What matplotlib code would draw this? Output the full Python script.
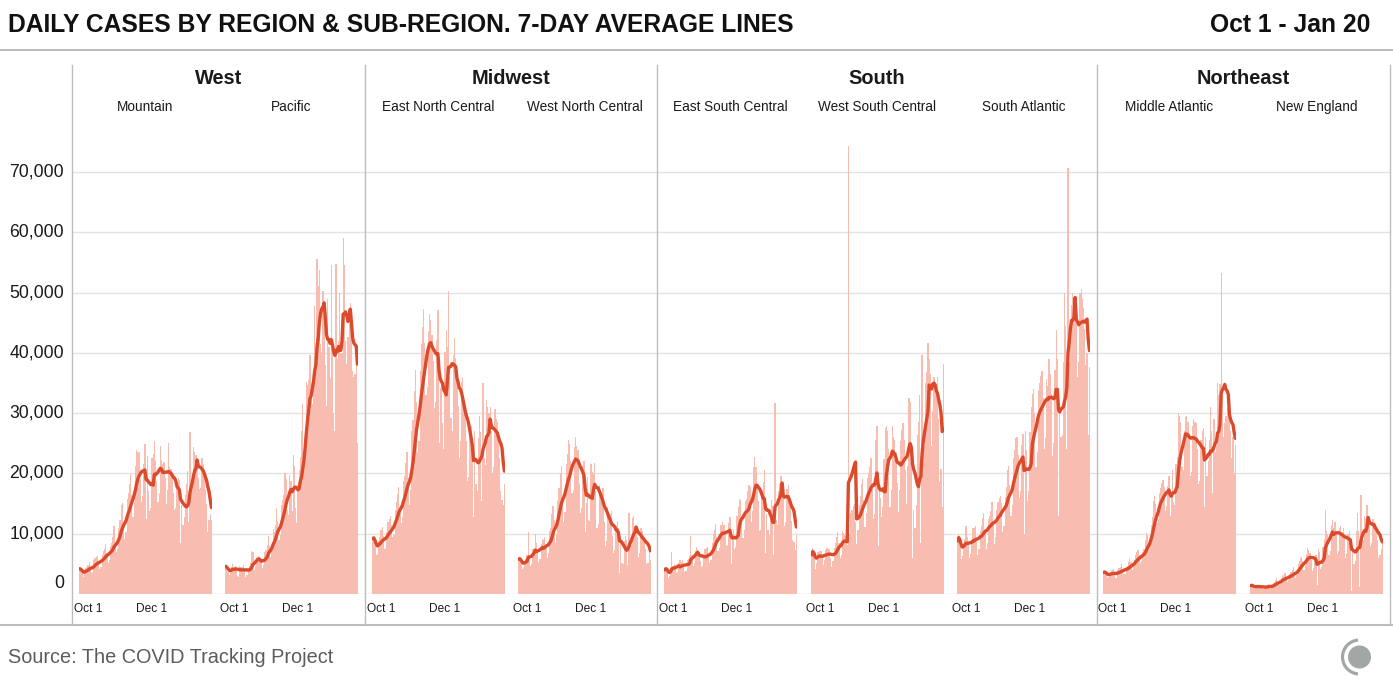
import numpy as np
import pandas as pd
import matplotlib
matplotlib.use('Agg')
import matplotlib.pyplot as plt
from matplotlib.lines import Line2D
from matplotlib.patches import Circle, Arc

# Daily new cases (thousands), Oct 1 2020 - Jan 20 2021
mountain = [4.2, 4.0, 3.6, 2.9, 3.4, 4.3, 4.5, 4.8, 5.3, 4.4, 3.6, 3.5, 5.6, 5.9,
            6.1, 6.3, 5.4, 4.2, 4.4, 6.5, 7.2, 7.4, 8.3, 6.8, 5.1, 5.6, 7.9, 8.5,
            9.5, 11.3, 8.5, 6.9, 7.5, 11.0, 12.3, 14.8, 15.1, 12.0, 9.2, 10.3, 15.8, 16.7,
            18.2, 19.9, 16.5, 12.8, 15.3, 21.2, 23.9, 23.6, 23.5, 19.0, 15.2, 16.3, 21.5, 24.9,
            12.5, 22.9, 17.0, 13.8, 14.3, 22.6, 23.2, 25.3, 22.1, 18.7, 15.2, 16.8, 24.6, 22.3,
            21.5, 21.9, 19.2, 15.0, 17.3, 25.0, 21.0, 20.8, 19.6, 16.8, 13.9, 14.2, 18.5, 19.2,
            18.9, 8.5, 14.8, 11.4, 12.7, 16.5, 18.3, 20.4, 12.0, 26.8, 17.7, 18.4, 24.3, 23.5,
            23.0, 21.9, 19.2, 17.4, 17.5, 22.6, 21.6, 19.9, 17.4, 15.0, 10.3, 12.2, 13.2, 12.3]
pacific = [4.6, 4.3, 3.7, 3.2, 3.5, 4.5, 4.9, 4.5, 4.6, 3.9, 3.0, 2.9, 4.7, 4.4,
           4.4, 4.8, 3.8, 2.9, 3.1, 4.3, 4.6, 5.2, 7.2, 6.9, 4.0, 4.6, 6.1, 5.8,
           6.3, 6.0, 5.4, 4.3, 4.8, 6.9, 7.3, 8.2, 9.7, 7.9, 6.1, 7.4, 10.8, 10.2,
           11.5, 14.3, 12.1, 9.0, 9.8, 14.8, 15.6, 16.5, 20.0, 19.1, 14.0, 13.1, 19.8, 18.8,
           13.8, 23.0, 21.3, 14.2, 11.8, 18.0, 20.5, 22.8, 27.1, 31.5, 23.5, 26.6, 35.2, 34.6,
           35.5, 39.6, 35.0, 31.5, 34.9, 47.8, 41.6, 55.5, 51.0, 53.8, 41.4, 40.1, 50.2, 46.0,
           38.0, 31.2, 48.9, 40.9, 35.8, 54.5, 40.0, 30.0, 27.0, 54.8, 39.0, 42.0, 50.0, 40.0,
           40.0, 59.0, 54.5, 42.0, 38.2, 42.7, 46.0, 48.3, 43.0, 37.0, 36.0, 36.5, 41.0, 25.0]
east_north_central = [9.2, 9.4, 8.1, 6.5, 6.7, 8.8, 9.5, 10.6, 11.1, 9.6, 7.4, 7.6, 10.2, 11.9,
                      12.4, 13.0, 11.5, 9.4, 9.8, 14.0, 15.3, 16.6, 17.8, 14.5, 11.7, 12.8, 18.7, 19.5,
                      21.8, 23.5, 19.3, 14.7, 17.2, 27.1, 28.8, 33.6, 37.2, 31.8, 23.5, 25.3, 37.0, 41.5,
                      44.2, 47.3, 41.6, 33.0, 34.4, 43.6, 46.5, 45.4, 43.0, 38.7, 30.8, 31.8, 42.1, 47.1,
                      25.1, 34.1, 35.6, 28.4, 24.0, 40.2, 43.7, 41.0, 50.3, 36.0, 29.2, 27.0, 39.6, 42.5,
                      39.2, 37.2, 31.1, 22.6, 25.3, 35.1, 36.0, 32.1, 30.2, 25.4, 18.8, 19.4, 27.2, 27.8,
                      23.6, 12.8, 27.0, 18.3, 17.0, 25.8, 29.5, 26.8, 15.5, 35.0, 22.5, 21.4, 32.1, 31.0,
                      30.0, 31.0, 27.1, 20.0, 21.0, 30.6, 29.0, 28.5, 25.9, 22.6, 17.0, 15.6, 14.7, 18.3]
west_north_central = [5.8, 5.9, 5.2, 4.2, 4.5, 5.5, 5.8, 6.5, 10.3, 6.2, 4.6, 5.0, 7.4, 7.5,
                      10.0, 8.4, 7.0, 5.3, 5.8, 8.3, 9.2, 9.0, 9.5, 8.3, 6.0, 6.8, 10.4, 11.0,
                      13.3, 14.6, 12.3, 8.5, 9.9, 15.5, 17.6, 20.0, 21.3, 16.1, 12.0, 13.6, 21.5, 23.2,
                      25.5, 24.8, 22.0, 16.8, 17.3, 24.3, 26.0, 24.6, 23.9, 18.3, 13.5, 14.2, 21.3, 22.0,
                      10.2, 15.1, 19.4, 12.3, 12.1, 21.5, 20.3, 19.9, 21.8, 17.0, 10.9, 11.6, 18.0, 16.7,
                      16.1, 17.5, 12.0, 7.9, 8.8, 14.5, 12.7, 13.3, 13.7, 9.6, 6.8, 7.3, 11.2, 12.1,
                      11.0, 3.5, 9.6, 5.2, 5.0, 8.8, 9.6, 9.0, 4.8, 13.4, 8.6, 8.2, 12.6, 12.9,
                      11.2, 10.8, 9.5, 6.1, 6.8, 11.0, 10.5, 9.8, 9.1, 7.4, 4.9, 5.2, 8.2, 5.6]
east_south_central = [4.0, 4.4, 3.9, 2.6, 3.0, 4.2, 7.0, 4.6, 4.9, 4.2, 3.4, 3.6, 5.2, 5.6,
                      5.3, 5.6, 4.6, 3.7, 3.8, 5.6, 5.8, 6.3, 9.7, 6.5, 4.6, 5.2, 7.1, 7.8,
                      7.4, 6.9, 5.5, 4.5, 4.7, 6.6, 7.5, 7.6, 7.8, 6.4, 5.1, 5.7, 8.5, 9.9,
                      10.6, 11.6, 9.5, 7.2, 7.6, 11.4, 11.5, 12.0, 11.5, 9.8, 8.0, 8.2, 11.8, 12.7,
                      5.0, 9.5, 10.7, 7.5, 7.8, 13.0, 14.5, 15.8, 15.6, 13.0, 9.3, 10.6, 15.5, 15.8,
                      17.0, 18.0, 17.8, 12.0, 13.8, 21.0, 22.7, 21.0, 17.8, 15.5, 10.4, 10.6, 17.2, 18.6,
                      20.5, 6.8, 13.2, 10.6, 9.8, 12.8, 15.6, 14.6, 6.5, 31.7, 12.3, 11.5, 17.1, 18.2,
                      19.5, 18.6, 16.3, 11.2, 12.0, 17.4, 18.0, 16.5, 14.4, 12.1, 9.0, 8.6, 7.3, 9.8]
west_south_central = [6.5, 7.6, 6.3, 4.2, 5.1, 6.9, 7.0, 7.2, 7.1, 6.2, 4.8, 5.6, 7.3, 7.6,
                      7.5, 7.4, 6.0, 4.4, 5.5, 7.7, 8.4, 9.5, 10.2, 8.4, 5.9, 6.5, 10.5, 10.1,
                      9.8, 9.7, 8.2, 74.3, 9.9, 13.4, 14.0, 14.6, 15.0, 12.0, 8.3, 10.6, 14.8, 16.2,
                      18.3, 19.0, 15.6, 11.1, 13.5, 19.3, 20.0, 21.0, 22.5, 18.0, 12.5, 13.3, 25.5, 27.8,
                      8.0, 17.5, 16.0, 12.8, 14.5, 22.4, 27.5, 27.8, 27.0, 24.0, 14.5, 17.3, 27.8, 26.0,
                      25.6, 23.5, 18.4, 13.6, 17.2, 25.4, 27.2, 28.3, 25.5, 20.5, 14.9, 21.2, 32.5, 31.8,
                      24.0, 6.0, 14.0, 11.0, 14.8, 26.3, 28.5, 33.0, 8.5, 39.7, 26.0, 24.5, 35.0, 36.8,
                      41.6, 39.0, 36.5, 24.5, 30.4, 36.0, 35.0, 34.8, 36.0, 29.0, 18.5, 20.8, 14.5, 38.1]
south_atlantic = [8.8, 9.9, 8.1, 5.8, 6.3, 8.5, 9.2, 11.2, 9.5, 8.6, 6.0, 6.6, 8.9, 10.9,
                  11.0, 11.3, 9.0, 6.4, 7.4, 10.5, 11.2, 12.6, 13.4, 10.8, 7.4, 8.5, 12.5, 13.0,
                  13.8, 15.2, 12.0, 8.3, 9.5, 14.0, 15.3, 16.0, 16.3, 15.1, 10.3, 11.2, 16.1, 17.8,
                  20.5, 21.2, 18.0, 13.0, 14.8, 22.5, 23.8, 25.8, 26.0, 23.0, 16.0, 17.1, 24.7, 26.5,
                  10.0, 27.0, 23.9, 15.5, 17.0, 26.8, 31.0, 33.2, 34.0, 30.0, 21.0, 23.5, 33.8, 35.0,
                  36.2, 37.0, 32.5, 24.0, 25.8, 35.6, 34.5, 39.0, 36.5, 33.1, 22.9, 25.0, 37.2, 43.8,
                  39.0, 13.0, 30.5, 26.0, 26.3, 38.5, 50.0, 44.5, 24.0, 70.7, 38.5, 42.0, 48.0, 50.0,
                  48.0, 47.0, 45.0, 36.0, 38.5, 50.0, 50.6, 49.0, 47.5, 44.0, 38.0, 40.0, 26.4, 37.7]
middle_atlantic = [3.6, 3.7, 3.3, 2.7, 2.8, 3.4, 3.6, 3.9, 4.1, 3.5, 2.6, 2.7, 3.9, 4.3,
                   4.4, 4.9, 4.0, 3.3, 3.3, 4.5, 4.6, 5.3, 5.9, 5.3, 4.0, 4.5, 5.7, 6.4,
                   6.9, 7.3, 6.5, 5.2, 5.5, 7.0, 7.4, 8.9, 10.1, 9.8, 7.5, 8.4, 11.5, 12.7,
                   15.5, 16.3, 15.0, 11.8, 12.5, 16.8, 17.6, 18.4, 18.9, 17.7, 13.8, 14.6, 17.9, 19.5,
                   13.0, 17.0, 20.5, 15.2, 14.8, 21.5, 22.7, 30.0, 29.5, 28.6, 21.0, 20.5, 27.0, 29.3,
                   29.6, 28.5, 26.7, 19.5, 20.3, 27.8, 29.0, 28.5, 28.3, 24.0, 18.2, 18.8, 25.5, 27.0,
                   27.5, 14.5, 26.0, 19.5, 22.0, 25.5, 31.0, 27.0, 16.8, 29.0, 23.5, 24.5, 35.0, 33.0,
                   34.8, 53.2, 33.0, 26.0, 28.3, 29.5, 31.0, 31.0, 29.5, 27.0, 22.5, 26.0, 20.0, 24.7]
new_england = [1.4, 1.5, 1.2, 0.9, 1.0, 1.3, 1.4, 1.3, 1.4, 1.1, 0.8, 0.9, 1.2, 1.3,
               1.5, 1.6, 1.3, 0.9, 1.0, 1.8, 2.0, 2.3, 2.6, 2.0, 1.5, 1.7, 2.6, 3.2,
               3.0, 3.4, 2.8, 2.0, 2.4, 3.3, 3.7, 4.0, 4.4, 3.7, 2.6, 3.2, 4.9, 5.5,
               6.0, 6.2, 5.5, 4.0, 4.6, 6.6, 7.6, 7.3, 6.8, 5.6, 3.8, 4.3, 6.0, 6.5,
               1.5, 7.5, 6.9, 4.2, 4.5, 7.8, 9.2, 14.0, 10.5, 10.0, 6.5, 7.2, 11.5, 12.3,
               11.0, 12.0, 10.5, 6.6, 7.2, 11.0, 11.3, 10.2, 11.0, 9.3, 6.0, 6.8, 10.0, 10.5,
               9.3, 0.5, 8.0, 5.0, 5.5, 10.5, 13.5, 10.5, 1.2, 16.5, 10.0, 9.0, 13.0, 12.5,
               14.8, 13.0, 11.5, 8.0, 8.5, 12.5, 12.0, 11.5, 11.0, 9.0, 6.0, 6.5, 7.5, 9.0]

regions = ['West', 'Midwest', 'South', 'Northeast']
subregions = [['Mountain', 'Pacific'],
              ['East North Central', 'West North Central'],
              ['East South Central', 'West South Central', 'South Atlantic'],
              ['Middle Atlantic', 'New England']]
series = [mountain, pacific, east_north_central, west_north_central,
          east_south_central, west_south_central, south_atlantic,
          middle_atlantic, new_england]
yticks = [0, 10000, 20000, 30000, 40000, 50000, 60000, 70000]

# layout in pixels of the 1393x695 image
W, H = 1393, 695
Y0, YTOP = 594, 130                  # pixel row of 0 cases / top of plot area
PX_PER_CASE = 60.3 / 10000
YMAX = (Y0 - YTOP) / PX_PER_CASE
panel_x = [79, 225, 372, 518, 664, 811, 957, 1103, 1250]
panel_w = 133
seps = [72, 365, 657, 1097, 1390]

BAR = '#f8bcb1'
LINE = '#dc4a2c'
GRID = '#e3e3e3'
SEP = '#bdbdbd'
TXT = '#1a1a1a'


def fx(x):
    return x / W


def fy(y):
    return 1 - y / H


plt.rcParams['font.family'] = ['Liberation Sans', 'DejaVu Sans']
fig = plt.figure(figsize=(W / 100, H / 100), dpi=100)

# background grid spanning all panels
bg = fig.add_axes([fx(seps[0]), fy(Y0), fx(seps[-1] - seps[0]), (Y0 - YTOP) / H])
bg.set_xlim(0, 1)
bg.set_ylim(0, YMAX)
bg.set_axis_off()
for v in yticks:
    bg.axhline(v, color=GRID, lw=1.0, zorder=0)

# y tick labels
for v in yticks:
    y = Y0 - v * PX_PER_CASE
    if v == 0:
        y = 583
    fig.text(fx(64), fy(y), f'{v:,}', ha='right', va='center', fontsize=12.7, color=TXT)

# one axes per sub-region
days = np.arange(112)
for x0, vals in zip(panel_x, series):
    cases = np.array(vals) * 1000
    avg = pd.Series(cases).rolling(7, min_periods=1).mean()
    ax = fig.add_axes([fx(x0), fy(Y0), fx(panel_w), (Y0 - YTOP) / H])
    ax.patch.set_alpha(0)
    ax.bar(days, cases, width=1.0, color=BAR, linewidth=0)
    ax.plot(days, avg, color=LINE, lw=2.4, solid_joinstyle='round', solid_capstyle='round')
    ax.set_xlim(-0.5, 111.5)
    ax.set_ylim(0, YMAX)
    ax.set_axis_off()
    # date labels
    fig.text(fx(x0 - 5), fy(612), 'Oct 1', ha='left', va='baseline', fontsize=8.6, color=TXT)
    fig.text(fx(x0 + 61.5 * panel_w / 112), fy(612), 'Dec 1', ha='center', va='baseline',
             fontsize=8.6, color=TXT)

# region and sub-region headers
k = 0
for i, (reg, subs) in enumerate(zip(regions, subregions)):
    fig.text(fx((seps[i] + seps[i + 1]) / 2), fy(84), reg, ha='center', va='baseline',
             fontsize=14.4, fontweight='bold', color=TXT)
    for s in subs:
        fig.text(fx(panel_x[k] + panel_w / 2), fy(111), s, ha='center', va='baseline',
                 fontsize=9.8, color=TXT)
        k += 1

# separators and rules
for x in seps:
    fig.add_artist(Line2D([fx(x)] * 2, [fy(65), fy(625)], color=SEP, lw=1.0))
fig.add_artist(Line2D([0, 1], [fy(50)] * 2, color=SEP, lw=1.5))
fig.add_artist(Line2D([0, 1], [fy(625)] * 2, color=SEP, lw=1.5))

# title, date range, source
fig.text(fx(8), fy(32), 'DAILY CASES BY REGION & SUB-REGION. 7-DAY AVERAGE LINES',
         ha='left', va='baseline', fontsize=17.7, fontweight='bold', color='#111111')
fig.text(fx(1370), fy(32), 'Oct 1 - Jan 20', ha='right', va='baseline',
         fontsize=17.7, fontweight='bold', color='#111111')
fig.text(fx(8), fy(663), 'Source: The COVID Tracking Project', ha='left', va='baseline',
         fontsize=14.3, color='#5c5c5c')

# logo
lg = fig.add_axes([fx(1335), fy(682), fx(50), 50 / H])
lg.set_xlim(0, 50)
lg.set_ylim(0, 50)
lg.set_axis_off()
lg.add_patch(Circle((24.5, 25), 11.5, color='#a3a6a7', lw=0))
lg.add_patch(Arc((24.5, 25), 34, 34, theta1=95, theta2=265, color='#a3a6a7', lw=2.3))

fig.savefig('out.png', dpi=100)
